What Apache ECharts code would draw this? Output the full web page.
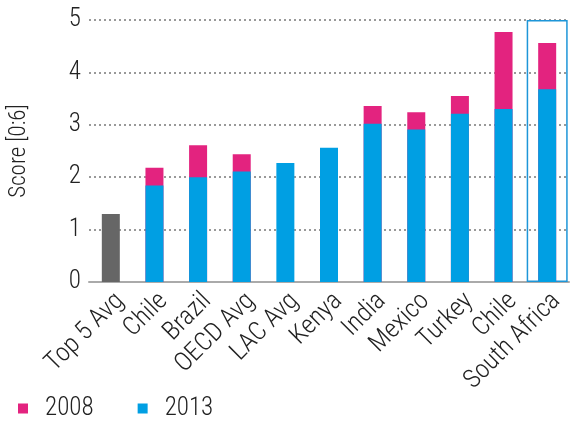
<!DOCTYPE html>
<html>
<head>
<meta charset="utf-8">
<script src="https://cdn.jsdelivr.net/npm/echarts@6/dist/echarts.min.js"></script>
<style>
  html, body { margin: 0; padding: 0; background: #fff; }
  #chart { width: 571px; height: 426px; }
</style>
</head>
<body>
<div id="chart"></div>
<script>
var categories = ['Top 5 Avg', 'Chile', 'Brazil', 'OECD Avg', 'LAC Avg', 'Kenya', 'India', 'Mexico', 'Turkey', 'Chile', 'South Africa'];
var values2008 = [null, 2.18, 2.61, 2.44, null, null, 3.36, 3.24, 3.55, 4.77, 4.56];
var values2013 = [1.30, 1.84, 2.00, 2.11, 2.27, 2.56, 3.02, 2.91, 3.21, 3.30, 3.68];
var highlight = [null, null, null, null, null, null, null, null, null, null, 5];
var yTicks = [0, 1, 2, 3, 4, 5];

var font = "'Liberation Sans Narrow', 'Roboto Condensed', Roboto, sans-serif";

// Top 5 Avg is drawn grey
var data2013 = values2013.map(function (v, i) {
    return i === 0 ? { value: v, itemStyle: { color: '#666666' } } : v;
});

var option = {
    animation: false,
    textStyle: { fontFamily: font },
    legend: {
        left: 13,
        bottom: 0,
        icon: 'rect',
        itemWidth: 10,
        itemHeight: 10,
        itemGap: 44,
        textStyle: { fontFamily: font, fontSize: 25, fontWeight: 300, color: '#222', padding: [0, 0, 0, 12] },
        data: ['2008', '2013']
    },
    grid: { left: 87, right: 2, top: 20, bottom: 144 },
    xAxis: [
        {
            type: 'category',
            data: categories,
            axisTick: { show: false },
            axisLine: { lineStyle: { color: '#aaaaaa', width: 2 } },
            axisLabel: {
                rotate: 45, fontFamily: font, fontSize: 26, fontWeight: 300, color: '#222',
                margin: 6, interval: 0, verticalAlign: 'top'
            }
        },
        {
            type: 'category',
            data: categories,
            show: false
        }
    ],
    yAxis: {
        type: 'value',
        min: 0,
        max: yTicks[yTicks.length - 1],
        interval: 1,
        name: 'Score [0:6]',
        nameLocation: 'middle',
        nameGap: 58,
        nameTextStyle: { fontFamily: font, fontSize: 23, fontWeight: 300, color: '#222' },
        axisLine: { show: false },
        axisTick: { show: false },
        axisLabel: { fontFamily: font, fontSize: 25, fontWeight: 300, color: '#222', margin: 8 },
        splitLine: { lineStyle: { color: '#999999', type: [2, 3], width: 2 } }
    },
    series: [
        {
            name: '2008',
            type: 'bar',
            barWidth: 18,
            barGap: '-100%',
            itemStyle: { color: '#e3237f' },
            data: values2008
        },
        {
            name: '2013',
            type: 'bar',
            barWidth: 18,
            barGap: '-100%',
            itemStyle: { color: '#009fe3' },
            data: data2013
        },
        {
            type: 'bar',
            xAxisIndex: 1,
            barWidth: 41,
            silent: true,
            z: 1,
            itemStyle: { color: 'rgba(0,0,0,0)', borderColor: '#1e96d8', borderWidth: 1.5 },
            data: highlight
        }
    ]
};

echarts.init(document.getElementById('chart')).setOption(option);
</script>
</body>
</html>
